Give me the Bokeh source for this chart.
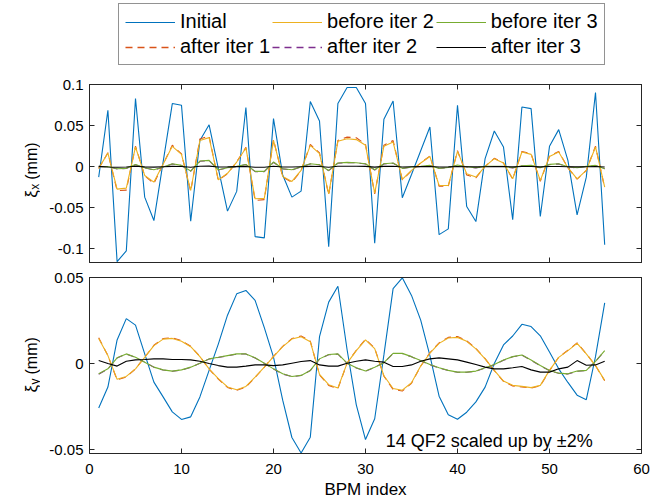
from bokeh.plotting import figure
from bokeh.models import (Range1d, FixedTicker, LinearAxis, Legend, LegendItem,
                          Label, CustomJSTickFormatter)
from bokeh.layouts import column, row
from bokeh.embed import file_html
from bokeh.resources import INLINE
import math

# ---------------- data ----------------
bpm = list(range(1, 57))

series_names = ["Initial", "after iter 1", "before iter 2",
                "after iter 2", "before iter 3", "after iter 3"]

# horizontal (x) orbit error, mm
x_initial = [-0.0127, 0.0687, -0.1155, -0.1024, 0.0829, -0.0370, -0.0655, 0.0056,
             0.0768, 0.0748, -0.0663, 0.0320, 0.0510, -0.0020, -0.0540, -0.0300,
             0.0720, -0.0850, -0.0865, 0.0585, -0.0100, -0.0370, -0.0297, 0.0793,
             0.0556, -0.0972, 0.0768, 0.0963, 0.0963, 0.0768, -0.0931, 0.0577,
             0.0800, -0.0378, -0.0094, 0.0194, 0.0483, -0.0826, -0.0756, 0.0748,
             -0.0484, -0.0667, 0.0098, 0.0434, 0.0239, -0.0643, 0.0727, 0.0707,
             -0.0606, 0.0248, 0.0451, 0.0077, -0.0585, -0.0127, 0.0902, -0.0948]
x_after1 = [-0.0022, 0.0170, -0.0290, -0.0285, 0.0250, -0.0110, -0.0205, 0.0030,
            0.0262, 0.0155, -0.0300, 0.0338, 0.0372, -0.0165, -0.0085, 0.0060,
            0.0235, -0.0410, -0.0400, 0.0330, -0.0125, -0.0190, -0.0048, 0.0270,
            0.0168, -0.0342, 0.0320, 0.0360, 0.0352, 0.0272, -0.0330, 0.0262,
            0.0318, -0.0160, -0.0048, 0.0046, 0.0130, -0.0238, -0.0236, 0.0195,
            -0.0100, -0.0135, 0.0004, 0.0102, 0.0046, -0.0152, 0.0186, 0.0158,
            -0.0178, 0.0130, 0.0186, -0.0012, -0.0152, -0.0046, 0.0250, -0.0258]
x_before2 = [-0.0020, 0.0166, -0.0273, -0.0260, 0.0240, -0.0106, -0.0187, 0.0029,
             0.0248, 0.0150, -0.0289, 0.0320, 0.0354, -0.0160, -0.0080, 0.0057,
             0.0228, -0.0390, -0.0385, 0.0320, -0.0118, -0.0179, -0.0045, 0.0260,
             0.0160, -0.0330, 0.0309, 0.0340, 0.0330, 0.0260, -0.0320, 0.0250,
             0.0300, -0.0154, -0.0045, 0.0045, 0.0124, -0.0228, -0.0228, 0.0187,
             -0.0085, -0.0126, 0.0004, 0.0098, 0.0044, -0.0147, 0.0179, 0.0150,
             -0.0167, 0.0124, 0.0179, -0.0012, -0.0147, -0.0045, 0.0240, -0.0249]
x_after2 = [0.0000, 0.0001, -0.0027, -0.0022, 0.0024, -0.0014, -0.0040, -0.0006,
            0.0033, 0.0014, -0.0055, 0.0066, 0.0074, -0.0040, -0.0015, 0.0002,
            0.0025, -0.0060, -0.0060, 0.0054, -0.0026, -0.0040, -0.0002, 0.0034,
            0.0022, -0.0048, 0.0043, 0.0050, 0.0047, 0.0034, -0.0040, 0.0034,
            0.0042, -0.0022, -0.0006, 0.0002, 0.0014, -0.0022, -0.0012, 0.0018,
            -0.0002, -0.0014, 0.0002, 0.0002, 0.0002, -0.0014, 0.0010, 0.0014,
            -0.0014, 0.0026, 0.0034, -0.0002, -0.0014, 0.0002, 0.0014, -0.0026]
x_before3 = [0.0000, 0.0002, -0.0025, -0.0020, 0.0026, -0.0012, -0.0037, -0.0004,
             0.0036, 0.0016, -0.0053, 0.0069, 0.0077, -0.0037, -0.0012, 0.0004,
             0.0028, -0.0057, -0.0057, 0.0057, -0.0024, -0.0037, 0.0000, 0.0036,
             0.0024, -0.0045, 0.0045, 0.0053, 0.0049, 0.0036, -0.0037, 0.0036,
             0.0045, -0.0020, -0.0004, 0.0004, 0.0016, -0.0020, -0.0010, 0.0020,
             0.0000, -0.0012, 0.0004, 0.0004, 0.0004, -0.0012, 0.0012, 0.0016,
             -0.0012, 0.0028, 0.0036, 0.0000, -0.0012, 0.0004, 0.0016, -0.0024]
x_after3 = [0.0004, -0.0003, -0.0006, -0.0004, 0.0005, -0.0002, -0.0005, 0.0000,
            0.0004, 0.0003, -0.0006, 0.0006, 0.0007, -0.0004, -0.0002, 0.0001,
            0.0003, -0.0007, -0.0007, 0.0006, -0.0003, -0.0004, 0.0000, 0.0004,
            0.0003, -0.0006, 0.0005, 0.0006, 0.0006, 0.0004, -0.0005, 0.0004,
            0.0005, -0.0003, -0.0001, 0.0001, 0.0002, -0.0003, -0.0002, 0.0003,
            -0.0001, -0.0002, 0.0000, 0.0001, 0.0001, -0.0002, 0.0002, 0.0002,
            -0.0002, 0.0002, 0.0003, 0.0000, -0.0002, 0.0000, 0.0003, -0.0003]

# vertical (y) orbit error, mm
y_initial = [-0.0258, -0.0137, 0.0137, 0.0261, 0.0223, 0.0056, -0.0108, -0.0194,
             -0.0281, -0.0325, -0.0310, -0.0194, -0.0040, 0.0113, 0.0281, 0.0405,
             0.0425, 0.0367, 0.0209, 0.0037, -0.0213, -0.0430, -0.0520, -0.0428,
             0.0156, 0.0357, 0.0449, 0.0080, -0.0240, -0.0442, -0.0321, 0.0050,
             0.0435, 0.0498, 0.0396, 0.0252, 0.0046, -0.0190, -0.0298, -0.0324,
             -0.0283, -0.0223, -0.0137, 0.0000, 0.0108, 0.0160, 0.0228, 0.0215,
             0.0161, 0.0067, -0.0031, -0.0110, -0.0184, -0.0210, 0.0040, 0.0352]
y_after1 = [0.0150, 0.0046, -0.0095, -0.0078, -0.0031, 0.0037, 0.0106, 0.0145,
            0.0150, 0.0133, 0.0100, 0.0041, -0.0032, -0.0090, -0.0139, -0.0156,
            -0.0137, -0.0081, -0.0021, 0.0041, 0.0100, 0.0145, 0.0160, 0.0130,
            -0.0066, -0.0127, -0.0146, 0.0002, 0.0077, 0.0141, 0.0089, -0.0073,
            -0.0150, -0.0160, -0.0115, -0.0015, 0.0062, 0.0120, 0.0152, 0.0157,
            0.0132, 0.0087, 0.0028, -0.0041, -0.0104, -0.0130, -0.0136, -0.0143,
            -0.0130, -0.0041, 0.0037, 0.0077, 0.0120, 0.0057, -0.0012, -0.0100]
y_before2 = [0.0146, 0.0046, -0.0092, -0.0075, -0.0031, 0.0036, 0.0104, 0.0142,
             0.0146, 0.0129, 0.0098, 0.0040, -0.0031, -0.0088, -0.0136, -0.0152,
             -0.0133, -0.0079, -0.0021, 0.0040, 0.0098, 0.0142, 0.0156, 0.0127,
             -0.0063, -0.0123, -0.0142, 0.0002, 0.0075, 0.0138, 0.0087, -0.0071,
             -0.0145, -0.0155, -0.0112, -0.0015, 0.0060, 0.0117, 0.0148, 0.0152,
             0.0129, 0.0085, 0.0027, -0.0040, -0.0102, -0.0127, -0.0133, -0.0140,
             -0.0127, -0.0040, 0.0036, 0.0075, 0.0117, 0.0056, -0.0012, -0.0098]
y_after2 = [-0.0062, -0.0032, 0.0032, 0.0055, 0.0036, 0.0008, -0.0022, -0.0038,
            -0.0045, -0.0038, -0.0022, 0.0001, 0.0026, 0.0035, 0.0045, 0.0055,
            0.0055, 0.0032, 0.0001, -0.0032, -0.0061, -0.0076, -0.0070, -0.0041,
            0.0026, 0.0051, 0.0055, 0.0001, -0.0026, -0.0045, -0.0022, 0.0004,
            0.0058, 0.0058, 0.0039, 0.0016, -0.0007, -0.0026, -0.0041, -0.0051,
            -0.0051, -0.0045, -0.0026, -0.0007, 0.0019, 0.0039, 0.0049, 0.0019,
            -0.0013, -0.0041, -0.0057, -0.0061, -0.0045, -0.0041, 0.0012, 0.0074]
y_before3 = [-0.0060, -0.0031, 0.0033, 0.0056, 0.0036, 0.0008, -0.0021, -0.0037,
             -0.0044, -0.0037, -0.0021, 0.0002, 0.0027, 0.0036, 0.0046, 0.0056,
             0.0056, 0.0033, 0.0002, -0.0031, -0.0060, -0.0075, -0.0069, -0.0040,
             0.0027, 0.0052, 0.0056, 0.0002, -0.0025, -0.0044, -0.0021, 0.0005,
             0.0059, 0.0059, 0.0040, 0.0017, -0.0006, -0.0025, -0.0040, -0.0050,
             -0.0050, -0.0044, -0.0025, -0.0006, 0.0020, 0.0040, 0.0050, 0.0020,
             -0.0012, -0.0040, -0.0056, -0.0060, -0.0044, -0.0040, 0.0013, 0.0075]
y_after3 = [0.0017, 0.0000, -0.0015, 0.0013, 0.0021, 0.0023, 0.0027, 0.0027,
            0.0023, 0.0023, 0.0021, 0.0013, 0.0000, -0.0012, -0.0021, -0.0021,
            -0.0015, -0.0008, -0.0008, -0.0012, -0.0008, 0.0002, 0.0012, 0.0017,
            -0.0008, -0.0015, -0.0015, 0.0002, 0.0013, 0.0021, 0.0013, 0.0008,
            -0.0017, -0.0017, -0.0008, 0.0013, 0.0027, 0.0033, 0.0027, 0.0021,
            0.0008, -0.0006, -0.0021, -0.0031, -0.0031, -0.0025, -0.0017, -0.0037,
            -0.0050, -0.0050, -0.0031, -0.0021, 0.0017, -0.0010, -0.0008, 0.0013]

x_ticks = [0, 10, 20, 30, 40, 50, 60]
top_yticks = [-0.1, -0.05, 0, 0.05, 0.1]
bot_yticks = [-0.05, 0, 0.05]
annotation_text = "14 QF2 scaled up by \u00b12%"
x_label = "BPM index"

# ---------------- style ----------------
FONT = "Liberation Sans"
AXC = "#262626"
W = 660
LAB_W = 40          # width of the strip that carries the y-axis titles
colors = ["#0072BD", "#D95319", "#EDB120", "#7E2F8E", "#77AC30", "#000000"]
dashes = ["solid", "7 5", "solid", "7 5", "solid", "solid"]

fmt_code = "return String(Math.round(tick*1000)/1000)"


def style_axis(ax, ticks, show_labels, standoff=7):
    ax.ticker = FixedTicker(ticks=ticks)
    ax.major_tick_in = 5
    ax.major_tick_out = 0
    ax.minor_tick_line_color = None
    ax.axis_line_color = AXC
    ax.major_tick_line_color = AXC
    ax.major_label_text_font = FONT
    ax.major_label_text_color = "black"
    if show_labels:
        ax.formatter = CustomJSTickFormatter(code=fmt_code)
        ax.major_label_text_font_size = "15px"
        ax.major_label_standoff = standoff
    else:
        ax.formatter = CustomJSTickFormatter(code="return ''")
        ax.major_label_text_font_size = "1px"
        ax.major_label_standoff = 0


def make_panel(height, y_range, yticks, top_b, bot_b, show_x, ys):
    p = figure(width=W - LAB_W, height=height, x_range=Range1d(0, 60),
               y_range=y_range, output_backend="svg",
               toolbar_location=None, min_border_left=89 - LAB_W,
               min_border_right=19, min_border_top=top_b, min_border_bottom=bot_b)
    p.grid.visible = False
    p.outline_line_color = AXC
    p.background_fill_color = "white"
    p.border_fill_color = "white"
    xax = p.xaxis[0]
    yax = p.yaxis[0]
    style_axis(xax, x_ticks, show_x, standoff=10)
    style_axis(yax, yticks, True, standoff=6)
    top_ax = LinearAxis()
    style_axis(top_ax, x_ticks, False)
    p.add_layout(top_ax, "above")
    right_ax = LinearAxis()
    style_axis(right_ax, yticks, False)
    p.add_layout(right_ax, "right")
    for yv, c, d in zip(ys, colors, dashes):
        p.line(bpm, yv, line_color=c, line_dash=d, line_width=1.1)
    return p, xax


def label_strip(height, y_range, top_b, bot_b, sub, offs):
    s = figure(width=LAB_W, height=height, x_range=Range1d(0, LAB_W),
               y_range=y_range, output_backend="svg", toolbar_location=None,
               min_border_left=0, min_border_right=0, min_border_top=top_b,
               min_border_bottom=bot_b, x_axis_location=None, y_axis_location=None)
    s.outline_line_color = None
    s.grid.visible = False
    kw = dict(angle=math.pi / 2, text_font=FONT, text_color="black",
              text_baseline="alphabetic", text_align="left")
    s.add_layout(Label(x=31, y=0, y_offset=offs, text="\u03be",
                       text_font_size="17px", **kw))
    s.add_layout(Label(x=34, y=0, y_offset=offs + 8, text=sub,
                       text_font_size="12px", **kw))
    s.add_layout(Label(x=31, y=0, y_offset=offs + 18, text="(mm)",
                       text_font_size="16px", **kw))
    return s


top_yr = Range1d(-0.1165, 0.1)
bot_yr = Range1d(-0.0523, 0.05)

top, top_xax = make_panel(200, top_yr, top_yticks, 16, 6, False,
                          [x_initial, x_after1, x_before2, x_after2, x_before3, x_after3])
bot, bot_xax = make_panel(234, bot_yr, bot_yticks, 9, 49, True,
                          [y_initial, y_after1, y_before2, y_after2, y_before3, y_after3])
bot_xax.axis_label = x_label
bot_xax.axis_label_text_font = FONT
bot_xax.axis_label_text_font_size = "17px"
bot_xax.axis_label_text_font_style = "normal"
bot_xax.axis_label_text_color = "black"
bot_xax.axis_label_standoff = 3

bot.add_layout(Label(x=32.2, y=-0.0448, text=annotation_text, text_font=FONT,
                     text_font_size="18px", text_color="black",
                     text_baseline="alphabetic"))

top_lab = label_strip(200, top_yr, 16, 6, "x", -31)
bot_lab = label_strip(234, bot_yr, 9, 49, "y", -29)

# legend strip
leg = figure(width=W, height=68, x_range=Range1d(0, 1), y_range=Range1d(0, 1),
             output_backend="svg", toolbar_location=None, min_border=0,
             min_border_left=0, min_border_right=0, min_border_top=0,
             min_border_bottom=0, x_axis_location=None, y_axis_location=None)
leg.outline_line_color = None
leg.grid.visible = False
items = []
for name, c, d in zip(series_names, colors, dashes):
    lw = 1.4 if d != "solid" else 1.1
    r = leg.line(x=[5, 6], y=[5, 5], line_color=c, line_dash=d, line_width=lw)
    items.append(LegendItem(label=name, renderers=[r]))
legend = Legend(items=items, location=(118, 3), ncols=3, orientation="vertical",
                label_text_font=FONT, label_text_font_size="20px",
                label_text_color="black", glyph_width=50, glyph_height=20,
                label_height=20, label_standoff=5, spacing=2, padding=6,
                margin=0, border_line_color=AXC, border_line_width=1,
                background_fill_color="white", background_fill_alpha=1)
leg.add_layout(legend, "center")

layout = column(leg, row(top_lab, top, spacing=0), row(bot_lab, bot, spacing=0),
                spacing=0)
open("out.html", "w").write(file_html(layout, INLINE))
